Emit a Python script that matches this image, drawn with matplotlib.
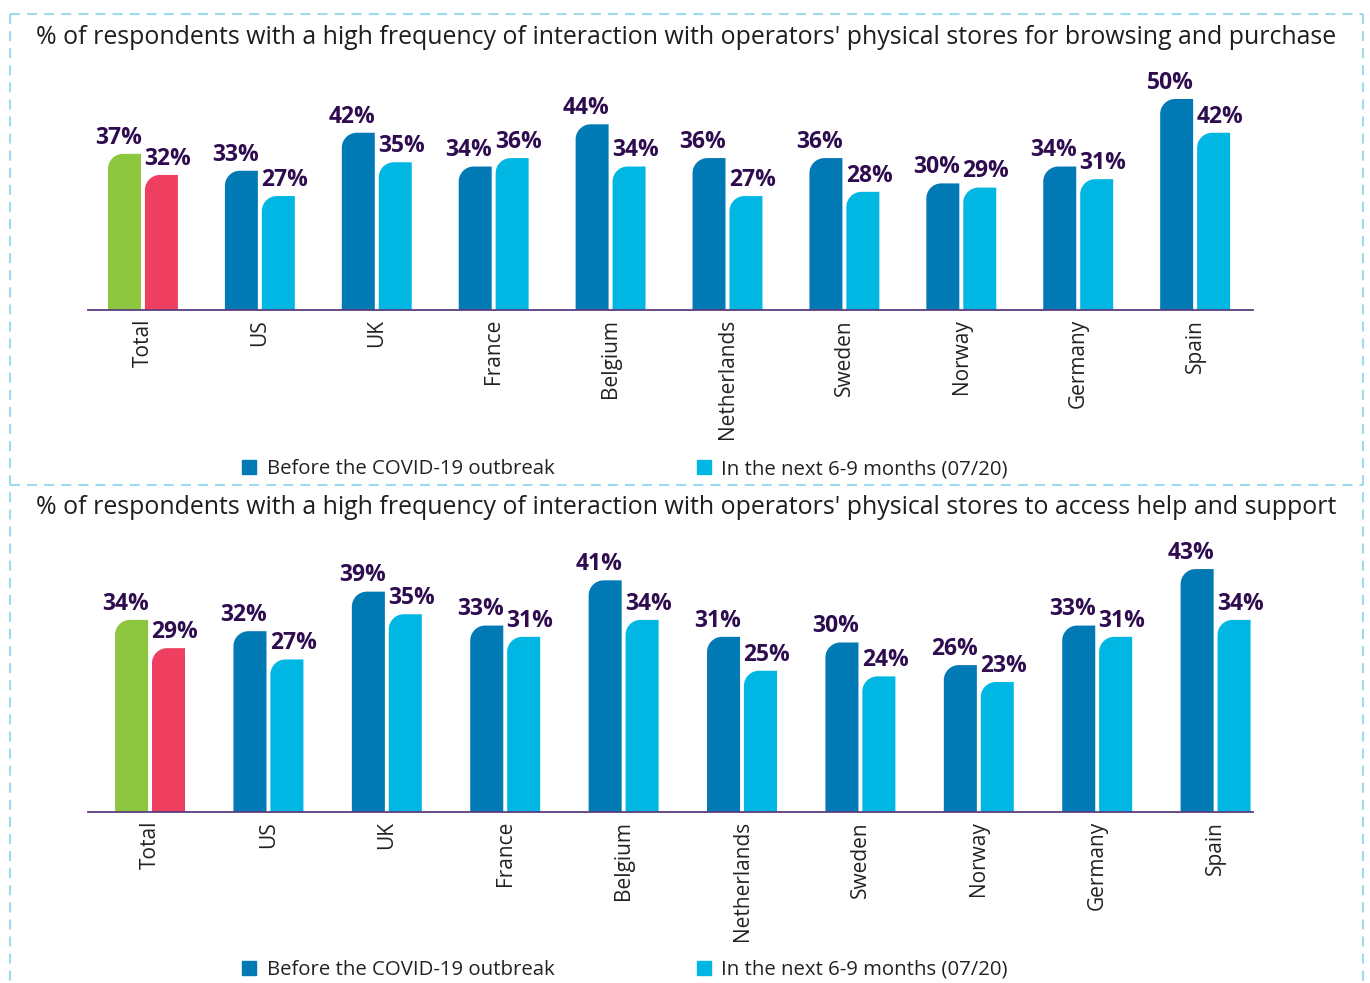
import numpy as np
import matplotlib
matplotlib.use("Agg")
import matplotlib.pyplot as plt
from matplotlib.path import Path
from matplotlib.patches import PathPatch, Patch
from matplotlib.lines import Line2D

countries = ['Total', 'US', 'UK', 'France', 'Belgium', 'Netherlands',
             'Sweden', 'Norway', 'Germany', 'Spain']

# browsing and purchase
shop_before = [37, 33, 42, 34, 44, 36, 36, 30, 34, 50]
shop_next = [32, 27, 35, 36, 34, 27, 28, 29, 31, 42]

# help and support
help_before = [34, 32, 39, 33, 41, 31, 30, 26, 33, 43]
help_next = [29, 27, 35, 31, 34, 25, 24, 23, 31, 34]

title_shop = ("% of respondents with a high frequency of interaction with operators' "
              "physical stores for browsing and purchase")
title_help = ("% of respondents with a high frequency of interaction with operators' "
              "physical stores to access help and support")
legend_labels = ['Before the COVID-19 outbreak', 'In the next 6-9 months (07/20)']

DARK = '#0079b4'
LIGHT = '#00b7e3'
GREEN = '#8dc63f'
RED = '#ef3f61'
LABEL = '#2e0c4f'
BORDER = '#9ddcef'

plt.rcParams['font.family'] = ['Open Sans', 'DejaVu Sans']

W, H = 1370, 983
fig = plt.figure(figsize=(W / 100, H / 100), dpi=100)


def fx(px):
    return px / W


def fy(py):
    return 1 - py / H


def round_bars(ax, bars, r_px=15):
    # replace plain rectangles by bars with a rounded top-left corner
    x0, x1 = ax.get_xlim()
    y0, y1 = ax.get_ylim()
    bb = ax.get_position()
    dx = (x1 - x0) / (bb.width * W)
    dy = (y1 - y0) / (bb.height * H)
    k = 0.5523
    for rect in bars:
        xl = rect.get_x()
        w = rect.get_width()
        h = rect.get_height()
        rx = min(r_px * dx, w * 0.5)
        ry = min(r_px * dy, h)
        verts = [(xl, 0), (xl, h - ry),
                 (xl, h - ry + k * ry), (xl + rx - k * rx, h), (xl + rx, h),
                 (xl + w, h), (xl + w, 0), (xl, 0)]
        codes = [Path.MOVETO, Path.LINETO,
                 Path.CURVE4, Path.CURVE4, Path.CURVE4,
                 Path.LINETO, Path.LINETO, Path.CLOSEPOLY]
        patch = PathPatch(Path(verts, codes), facecolor=rect.get_facecolor(),
                          edgecolor='none', zorder=2)
        rect.set_visible(False)
        ax.add_patch(patch)


def panel(ax, before, after, xlim, ylim_top, bw, off):
    x = np.arange(len(countries))
    ax.set_xlim(*xlim)
    ax.set_ylim(0, ylim_top)
    c_before = [GREEN] + [DARK] * (len(x) - 1)
    c_after = [RED] + [LIGHT] * (len(x) - 1)
    b1 = ax.bar(x - off, before, bw, color=c_before)
    b2 = ax.bar(x + off, after, bw, color=c_after)
    round_bars(ax, b1)
    round_bars(ax, b2)
    for xi, v in zip(x, before):
        ax.annotate(f'{v}%', xy=(xi - off, v), xytext=(-4.5, 3),
                    textcoords='offset points', ha='center', va='bottom',
                    fontsize=16.5, fontweight='bold', color=LABEL)
    for xi, v in zip(x, after):
        ax.annotate(f'{v}%', xy=(xi + off, v), xytext=(4.5, 3),
                    textcoords='offset points', ha='center', va='bottom',
                    fontsize=16.5, fontweight='bold', color=LABEL)
    ax.set_xticks(x)
    ax.set_xticklabels(countries, rotation=90, fontsize=15, color='#222222')
    ax.tick_params(axis='x', length=0, pad=6.5)
    ax.set_yticks([])
    for s in ['top', 'right', 'left']:
        ax.spines[s].set_visible(False)
    ax.spines['bottom'].set_color('#5c3d7e')
    ax.spines['bottom'].set_linewidth(1.3)


ax1 = fig.add_axes([fx(88), fy(310), fx(1253) - fx(88), fy(60) - fy(310)])
panel(ax1, shop_before, shop_next, (-0.47, 9.495), 250 / 4.22, 0.282, 0.158)

ax2 = fig.add_axes([fx(88), fy(812), fx(1253) - fx(88), fy(540) - fy(812)])
panel(ax2, help_before, help_next, (-0.524, 9.316), 272 / 5.65, 0.279, 0.156)

fig.text(fx(686), fy(38), title_shop, ha='center', va='center',
         fontsize=17.9, color='#1e1e1e')
fig.text(fx(686), fy(508), title_help, ha='center', va='center',
         fontsize=17.9, color='#1e1e1e')

handles = [Patch(color=DARK), Patch(color=LIGHT)]
for ly in (469, 970):
    fig.legend(handles, legend_labels, loc='center left',
               bbox_to_anchor=(fx(242), fy(ly)), ncol=2, frameon=False,
               fontsize=14.7, handlelength=0.7, handleheight=0.7,
               handletextpad=0.52, columnspacing=6.95, borderpad=0,
               borderaxespad=0, labelcolor='#222222')

# dashed frame
dash = dict(color=BORDER, linewidth=1.5, linestyle=(0, (4.8, 3.4)),
            transform=fig.transFigure)
fig.add_artist(Line2D([fx(10), fx(1363)], [fy(14), fy(14)], **dash))
fig.add_artist(Line2D([fx(10), fx(1363)], [fy(485), fy(485)], **dash))
fig.add_artist(Line2D([fx(10), fx(10)], [fy(14), fy(983)], **dash))
fig.add_artist(Line2D([fx(1363), fx(1363)], [fy(14), fy(983)], **dash))

fig.savefig('out.png', dpi=100)
